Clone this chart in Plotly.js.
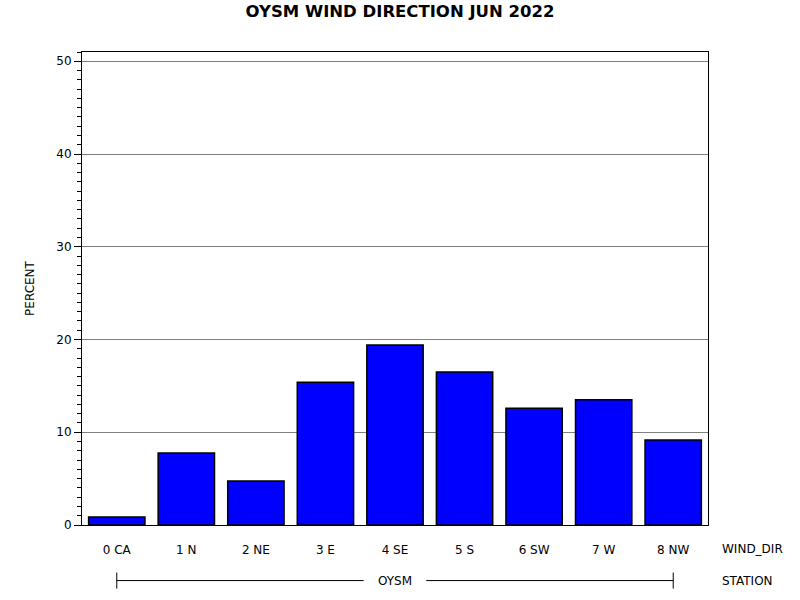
<!DOCTYPE html>
<html>
<head>
<meta charset="utf-8">
<script src="https://cdn.plot.ly/plotly-3.0.1.min.js"></script>
<style>
  body { margin: 0; background: #fff; }
  #drawGraph { width: 800px; height: 600px; }
</style>
</head>
<body>
<div id="drawGraph"></div>
<script>
// wind direction categories and percent of hours
let directions = ['0 CA', '1 N', '2 NE', '3 E', '4 SE', '5 S', '6 SW', '7 W', '8 NW'];
let percent = [0.86, 7.76, 4.74, 15.4, 19.4, 16.5, 12.6, 13.5, 9.16];
let station = 'OYSM';
let chartTitle = 'OYSM WIND DIRECTION JUN 2022';

let font = 'DejaVu Sans, Verdana, sans-serif';

let traceBars = {
    x: directions,
    y: percent,
    type: 'bar',
    width: 0.81,
    marker: {color: '#0000ff', line: {color: '#000', width: 1.5}},
    hoverinfo: 'x+y'
};

// station bracket under the categories, broken around the station name
let last = directions.length - 1;
let mid = last / 2;
let lineY = -0.1175;
let shapes = [
    {type: 'line', xref: 'x', yref: 'paper', x0: 0, x1: mid - 0.45, y0: lineY, y1: lineY, line: {color: '#000', width: 1}},
    {type: 'line', xref: 'x', yref: 'paper', x0: mid + 0.45, x1: last, y0: lineY, y1: lineY, line: {color: '#000', width: 1}},
    {type: 'line', xref: 'x', yref: 'paper', x0: 0, x1: 0, y0: lineY - 0.017, y1: lineY + 0.017, line: {color: '#000', width: 1}},
    {type: 'line', xref: 'x', yref: 'paper', x0: last, x1: last, y0: lineY - 0.017, y1: lineY + 0.017, line: {color: '#000', width: 1}}
];

let annotations = [
    {text: station, xref: 'x', yref: 'paper', x: mid, y: lineY, showarrow: false,
     font: {family: font, size: 12, color: '#000'}, xanchor: 'center', yanchor: 'middle'},
    {text: 'WIND_DIR', xref: 'paper', yref: 'paper', x: 1.0187, y: -0.0505, showarrow: false,
     font: {family: font, size: 12, color: '#000'}, xanchor: 'left', yanchor: 'middle'},
    {text: 'STATION', xref: 'paper', yref: 'paper', x: 1.0187, y: lineY, showarrow: false,
     font: {family: font, size: 12, color: '#000'}, xanchor: 'left', yanchor: 'middle'}
];

let layout = {
    width: 800,
    height: 600,
    margin: {l: 82, r: 92, t: 52, b: 75},
    paper_bgcolor: '#fff',
    plot_bgcolor: '#fff',
    showlegend: false,
    font: {family: font, size: 12, color: '#000'},
    title: {text: '<b>' + chartTitle + '</b>', font: {family: font, size: 16.5, color: '#000'},
            x: 0.5, xanchor: 'center', y: 0.981, yanchor: 'middle', yref: 'container'},
    xaxis: {
        type: 'category',
        showline: true, linecolor: '#000', linewidth: 1, mirror: true,
        ticks: '', showgrid: false, zeroline: false,
        ticklabelstandoff: 14,
        tickfont: {family: font, size: 12, color: '#000'}
    },
    yaxis: {
        range: [0, 51],
        dtick: 10,
        showline: true, linecolor: '#000', linewidth: 1, mirror: true,
        ticks: 'outside', ticklen: 7, tickcolor: '#000', tickwidth: 1,
        minor: {dtick: 1, ticks: 'outside', ticklen: 4, tickcolor: '#000', showgrid: false},
        showgrid: true, gridcolor: '#808080', gridwidth: 1,
        zeroline: false,
        tickfont: {family: font, size: 12, color: '#000'},
        title: {text: 'PERCENT', font: {family: font, size: 12, color: '#000'}, standoff: 19}
    },
    shapes: shapes,
    annotations: annotations,
    bargap: 0.19
};

drawGraph = document.getElementById('drawGraph');
Plotly.newPlot(drawGraph, [traceBars], layout, {displayModeBar: false});
</script>
</body>
</html>
